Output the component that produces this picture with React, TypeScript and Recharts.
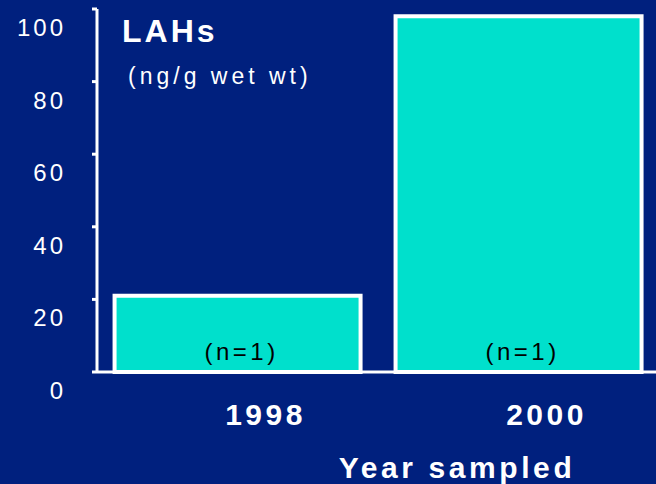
import React from "react";
import { BarChart, Bar, XAxis, YAxis, LabelList } from "recharts";

const years = ["1998", "2000"];
const lahValues = [21, 98];
const sampleLabels = ["(n=1)", "(n=1)"];
const yTicks = [0, 20, 40, 60, 80, 100];

const titleText = "LAHs";
const unitText = "(ng/g wet wt)";
const xTitle = "Year sampled";

const BG = "#00207E";
const CYAN = "#00E0CC";
const FONT = "'Liberation Sans', Arial, sans-serif";

const data = years.map((y, i) => ({ year: y, value: lahValues[i], n: sampleLabels[i] }));

const YTick = (props: any) => {
  const { x, y, payload } = props;
  return (
    <text
      x={x - 24}
      y={y + 27}
      textAnchor="end"
      fill="#fff"
      fontSize={24}
      fontFamily={FONT}
      letterSpacing={3}
    >
      {payload.value}
    </text>
  );
};

const XTick = (props: any) => {
  const { x, y, payload } = props;
  return (
    <text
      x={x + 28}
      y={y + 53}
      textAnchor="middle"
      fill="#fff"
      fontSize={30}
      fontWeight="bold"
      fontFamily={FONT}
      letterSpacing={3.5}
    >
      {payload.value}
    </text>
  );
};

const NLabel = (props: any) => {
  const { x, y, width, height, value } = props;
  return (
    <text
      x={x + width / 2 + 4}
      y={y + height - 12}
      textAnchor="middle"
      fill="#000"
      fontSize={24}
      fontFamily={FONT}
      letterSpacing={3.5}
    >
      {value}
    </text>
  );
};

export default function App() {
  return (
    <div
      style={{
        position: "absolute",
        left: 0,
        top: 0,
        width: 656,
        height: 484,
        background: BG,
        overflow: "hidden",
      }}
    >
      <BarChart
        width={656}
        height={484}
        data={data}
        margin={{ top: 9, right: -3, bottom: 0, left: 0 }}
        barCategoryGap="6.25%"
      >
        <XAxis
          dataKey="year"
          height={112}
          axisLine={{ stroke: "#fff", strokeWidth: 3 }}
          tickLine={false}
          tickSize={0}
          tickMargin={0}
          tick={<XTick />}
          interval={0}
        />
        <YAxis
          width={97}
          domain={[0, 100]}
          ticks={yTicks}
          axisLine={{ stroke: "#fff", strokeWidth: 3 }}
          tickLine={{ stroke: "#fff", strokeWidth: 3 }}
          tickSize={5}
          tick={<YTick />}
          interval={0}
        />
        <Bar dataKey="value" fill={CYAN} stroke="#fff" strokeWidth={4} isAnimationActive={false}>
          <LabelList dataKey="n" content={<NLabel />} />
        </Bar>
      </BarChart>
      <svg
        width={656}
        height={484}
        style={{ position: "absolute", left: 0, top: 0, pointerEvents: "none" }}
      >
        <text x={122} y={42} fill="#fff" fontSize={32} fontWeight="bold" fontFamily={FONT} letterSpacing={3}>
          {titleText}
        </text>
        <text x={128} y={84} fill="#fff" fontSize={23} fontFamily={FONT} letterSpacing={4}>
          {unitText}
        </text>
        <text
          x={457}
          y={478}
          textAnchor="middle"
          fill="#fff"
          fontSize={30}
          fontWeight="bold"
          fontFamily={FONT}
          letterSpacing={3.6}
        >
          {xTitle}
        </text>
      </svg>
    </div>
  );
}
